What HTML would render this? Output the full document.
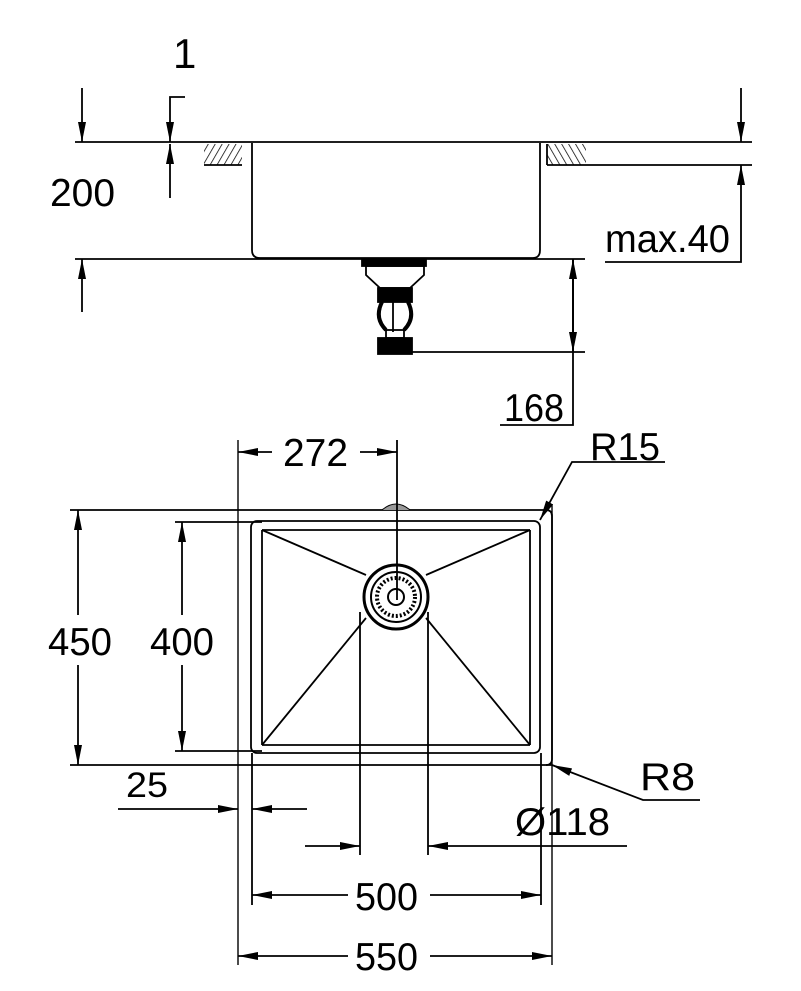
<!DOCTYPE html>
<html><head><meta charset="utf-8"><style>
html,body{margin:0;padding:0;background:#fff;}
svg{display:block;}
text{font-family:"Liberation Sans",sans-serif;fill:#000;}
</style></head><body>
<svg width="801" height="991" viewBox="0 0 801 991" xmlns="http://www.w3.org/2000/svg">
<defs>
<marker id="a" viewBox="0 0 20 8" refX="20" refY="4" markerWidth="20" markerHeight="8" markerUnits="userSpaceOnUse" orient="auto"><path d="M0,0 L20,4 L0,8 Z" fill="#000"/></marker>
<pattern id="h" width="6" height="6" patternUnits="userSpaceOnUse" patternTransform="rotate(30)"><line x1="0" y1="0" x2="0" y2="6" stroke="#000" stroke-width="1.5"/></pattern>
<pattern id="h2" width="6" height="6" patternUnits="userSpaceOnUse" patternTransform="rotate(-30)"><line x1="0" y1="0" x2="0" y2="6" stroke="#000" stroke-width="1.5"/></pattern>
</defs>
<g stroke="#000" stroke-width="1.8" fill="none">
<!-- side view -->
<line x1="75" y1="142" x2="752" y2="142"/>
<rect x="204" y="144" width="38" height="21" fill="url(#h)" stroke="none"/>
<line x1="204" y1="165" x2="242" y2="165"/>
<rect x="547" y="144" width="39" height="21" fill="url(#h2)" stroke="none"/>
<line x1="547" y1="144" x2="547" y2="165"/>
<line x1="547" y1="165" x2="752" y2="165"/>
<path d="M252,143 V250 Q252,258 260,258 H533 Q540,258 540,250 V143"/>
<line x1="75" y1="259" x2="585" y2="259"/>
<!-- drain -->
<rect x="362" y="259" width="64" height="7" fill="#000"/>
<path d="M366,266 H424 V275 L410,288 H380 L366,275 Z"/>
<rect x="378" y="288" width="34" height="14" fill="#000"/>
<path d="M382,302 Q374,318 386,330 M408,302 Q416,318 404,330" stroke-width="4"/>
<line x1="393" y1="302" x2="393" y2="332"/>
<rect x="386" y="330" width="18" height="8"/>
<rect x="378" y="338" width="34" height="16" fill="#000"/>
<line x1="412" y1="352" x2="585" y2="352"/>
<!-- dims side -->
<line x1="82" y1="88" x2="82" y2="142" marker-end="url(#a)"/>
<line x1="82" y1="312" x2="82" y2="259" marker-end="url(#a)"/>
<polyline points="185,97 170,97 170,142" marker-end="url(#a)"/>
<line x1="170" y1="198" x2="170" y2="144" marker-end="url(#a)"/>
<line x1="741" y1="88" x2="741" y2="142" marker-end="url(#a)"/>
<polyline points="605,262 741,262 741,165" marker-end="url(#a)"/>
<line x1="573" y1="352" x2="573" y2="259" marker-end="url(#a)"/>
<polyline points="500,425 573,425 573,259" />
<line x1="573" y1="260" x2="573" y2="352" marker-end="url(#a)"/>
<!-- top view -->
<line x1="238" y1="440" x2="238" y2="965" stroke-width="1.4"/>
<line x1="552" y1="505" x2="552" y2="965" stroke-width="1.4"/>
<line x1="70" y1="510" x2="546" y2="510"/>
<path d="M546,510 Q552,510 552,516 V759 Q552,765 546,765"/>
<line x1="70" y1="765" x2="552" y2="765"/>
<rect x="251" y="521" width="289" height="232" rx="6"/>
<line x1="262" y1="530" x2="262" y2="745"/>
<line x1="530" y1="530" x2="530" y2="745"/>
<line x1="262" y1="530" x2="530" y2="530"/>
<line x1="262" y1="745" x2="530" y2="745"/>
<line x1="175" y1="522" x2="262" y2="522"/>
<line x1="175" y1="751" x2="262" y2="751"/>
<line x1="262" y1="530" x2="366" y2="575"/>
<line x1="530" y1="530" x2="426" y2="575"/>
<line x1="262" y1="745" x2="366" y2="618"/>
<line x1="530" y1="745" x2="426" y2="618"/>
<path d="M382,510 Q396,498 410,510" fill="#999" stroke-width="1"/>
<circle cx="396" cy="597" r="32" stroke-width="3"/>
<circle cx="396" cy="597" r="25" stroke-width="2"/>
<circle cx="396" cy="597" r="19" stroke-width="4" stroke-dasharray="2 2"/>
<circle cx="396" cy="597" r="8" stroke-width="2"/>
<line x1="397" y1="440" x2="397" y2="600"/>
<line x1="360" y1="612" x2="360" y2="855"/>
<line x1="428" y1="612" x2="428" y2="855"/>
<line x1="252" y1="753" x2="252" y2="905"/>
<line x1="541" y1="753" x2="541" y2="905"/>
<!-- dims top -->
<line x1="272" y1="452" x2="238" y2="452" marker-end="url(#a)"/>
<line x1="360" y1="452" x2="397" y2="452" marker-end="url(#a)"/>
<line x1="78" y1="615" x2="78" y2="510" marker-end="url(#a)"/>
<line x1="78" y1="665" x2="78" y2="765" marker-end="url(#a)"/>
<line x1="182" y1="615" x2="182" y2="522" marker-end="url(#a)"/>
<line x1="182" y1="665" x2="182" y2="751" marker-end="url(#a)"/>
<polyline points="665,462 572,462 540,520" marker-end="url(#a)"/>
<polyline points="700,800 643,800 552,765" marker-end="url(#a)"/>
<line x1="118" y1="809" x2="238" y2="809" marker-end="url(#a)"/>
<line x1="307" y1="809" x2="252" y2="809" marker-end="url(#a)"/>
<line x1="305" y1="846" x2="360" y2="846" marker-end="url(#a)"/>
<line x1="627" y1="846" x2="428" y2="846" marker-end="url(#a)"/>
<line x1="348" y1="895" x2="252" y2="895" marker-end="url(#a)"/>
<line x1="430" y1="895" x2="541" y2="895" marker-end="url(#a)"/>
<line x1="348" y1="956" x2="238" y2="956" marker-end="url(#a)"/>
<line x1="430" y1="956" x2="552" y2="956" marker-end="url(#a)"/>
</g>
<g font-size="39" lengthAdjust="spacingAndGlyphs">
<text x="173" y="68" font-size="42">1</text>
<text x="50" y="206" textLength="65" lengthAdjust="spacingAndGlyphs">200</text>
<text x="605" y="252" textLength="125" lengthAdjust="spacingAndGlyphs">max.40</text>
<text x="504" y="421" textLength="60" lengthAdjust="spacingAndGlyphs">168</text>
<text x="283" y="466" textLength="65" lengthAdjust="spacingAndGlyphs">272</text>
<text x="590" y="460" textLength="70" lengthAdjust="spacingAndGlyphs">R15</text>
<text x="48" y="655" textLength="64" lengthAdjust="spacingAndGlyphs">450</text>
<text x="150" y="655" textLength="64" lengthAdjust="spacingAndGlyphs">400</text>
<text x="126" y="797" font-size="35" textLength="42" lengthAdjust="spacingAndGlyphs">25</text>
<text x="640" y="790" textLength="55" lengthAdjust="spacingAndGlyphs">R8</text>
<text x="515" y="835" textLength="95" lengthAdjust="spacingAndGlyphs">Ø118</text>
<text x="355" y="910" textLength="63" lengthAdjust="spacingAndGlyphs">500</text>
<text x="355" y="970" textLength="63" lengthAdjust="spacingAndGlyphs">550</text>
</g>
</svg>
</body></html>
